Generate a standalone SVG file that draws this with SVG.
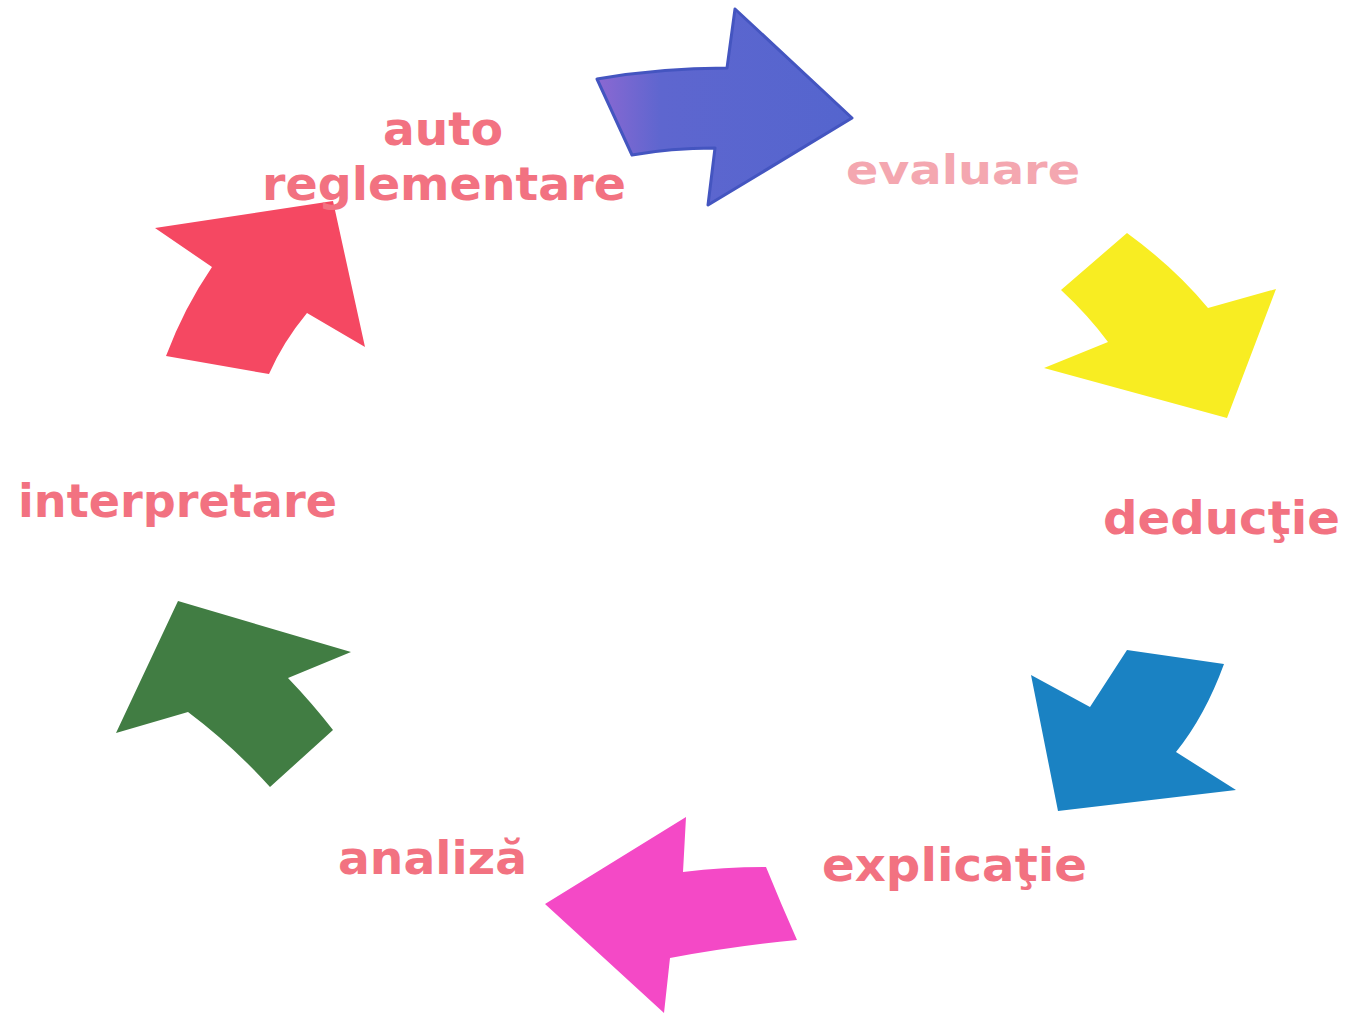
<svg xmlns="http://www.w3.org/2000/svg" width="1349" height="1015" viewBox="0 0 1349 1015">
<style>
.lbl{font-family:"DejaVu Sans","Liberation Sans",sans-serif;font-weight:bold;font-size:47px;fill:#f27281}
.faded{fill:#f4a7b0}
</style>
<defs>
<linearGradient id="bg" x1="0" y1="0" x2="1" y2="0">
<stop offset="0" stop-color="#8b68d2"/>
<stop offset="0.25" stop-color="#5e66cf"/>
<stop offset="1" stop-color="#5465ce"/>
</linearGradient>
</defs>
<rect width="1349" height="1015" fill="#ffffff"/>
<g id="connectors">
<path id="arrow-blue" d="M597,79 Q660,68 727,68 L735,9 L852,118 L708,205 L715,148 Q670,148 632,155 Z" fill="url(#bg)" stroke="#4455c0" stroke-width="3" stroke-linejoin="round"/>
<path id="arrow-yellow" d="M1127,233 Q1175,268 1208,308 L1276,289 L1227,418 L1044,368 L1108,342 Q1088,315 1061,290 Z" fill="#f8ed22"/>
<path id="arrow-blue2" d="M1127,650 L1224,664 Q1205,716 1176,752 L1236,790 L1058,811 L1031,675 L1090,707 Z" fill="#1a82c3"/>
<path id="arrow-pink" d="M545,904 L686,817 L683,872 Q725,867 766,867 Q781,904 797,940 Q735,946 670,958 L664,1013 Z" fill="#f449c6"/>
<path id="arrow-green" d="M178,601 L351,652 L288,678 Q312,703 333,730 L270,787 Q232,745 188,712 L116,733 Z" fill="#417d43"/>
<path id="arrow-red" d="M155,228 L333,201 L365,347 L307,313 Q283,342 269,374 L166,356 Q184,308 212,267 Z" fill="#f54862"/>
</g>
<g id="node-auto"><text class="lbl" x="383" y="145" textLength="120" lengthAdjust="spacingAndGlyphs">auto</text></g>
<g id="node-reglementare"><text class="lbl" x="262" y="200" textLength="364" lengthAdjust="spacingAndGlyphs">reglementare</text></g>
<g id="node-evaluare"><text class="lbl faded" x="846" y="184" textLength="234" lengthAdjust="spacingAndGlyphs" style="font-size:40px">evaluare</text></g>
<g id="node-deductie"><text class="lbl" x="1103" y="534" textLength="237" lengthAdjust="spacingAndGlyphs">deducţie</text></g>
<g id="node-explicatie"><text class="lbl" x="822" y="881" textLength="265" lengthAdjust="spacingAndGlyphs">explicaţie</text></g>
<g id="node-analiza"><text class="lbl" x="338" y="874" textLength="189" lengthAdjust="spacingAndGlyphs">analiză</text></g>
<g id="node-interpretare"><text class="lbl" x="18" y="517" textLength="319" lengthAdjust="spacingAndGlyphs">interpretare</text></g>
</svg>
